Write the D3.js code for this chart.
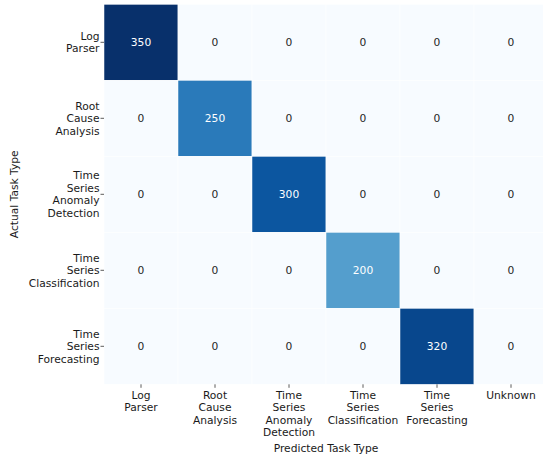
<!DOCTYPE html>
<html>
<head>
<meta charset="utf-8">
<script src="https://cdn.jsdelivr.net/npm/d3@7/dist/d3.min.js"></script>
<style>
html,body{margin:0;padding:0;background:#fff;}
svg{display:block;}
svg text{font-family:"DejaVu Sans",sans-serif;}
</style>
</head>
<body>
<svg id="chart" width="543" height="460"></svg>
<script>
const actualLabels = ["Log\nParser","Root\nCause\nAnalysis","Time\nSeries\nAnomaly\nDetection","Time\nSeries\nClassification","Time\nSeries\nForecasting"];
const predictedLabels = ["Log\nParser","Root\nCause\nAnalysis","Time\nSeries\nAnomaly\nDetection","Time\nSeries\nClassification","Time\nSeries\nForecasting","Unknown"];
const row0 = [350,0,0,0,0,0];
const row1 = [0,250,0,0,0,0];
const row2 = [0,0,300,0,0,0];
const row3 = [0,0,0,200,0,0];
const row4 = [0,0,0,0,320,0];
const matrix = [row0,row1,row2,row3,row4];
const xTitle = "Predicted Task Type";
const yTitle = "Actual Task Type";

(function(){
const FF = "'DejaVu Sans', sans-serif";
const svg = d3.select("#chart");
const mLeft = 104, mTop = 4.3, cellW = 74, cellH = 76;
const x = d3.scaleBand().domain(d3.range(predictedLabels.length)).range([mLeft, mLeft + cellW*predictedLabels.length]);
const y = d3.scaleBand().domain(d3.range(actualLabels.length)).range([mTop, mTop + cellH*actualLabels.length]);

const blues = ["#f7fbff","#deebf7","#c6dbef","#9ecae1","#6baed6","#4292c6","#2171b5","#08519c","#08306b"];
const vmax = 350;
const color = d3.scaleLinear().domain(blues.map((_,i)=>i/(blues.length-1)*vmax)).range(blues).interpolate(d3.interpolateRgb).clamp(true);

const cells = [];
matrix.forEach((r,i)=>r.forEach((v,j)=>cells.push({i,j,v})));

svg.append("g").selectAll("rect").data(cells).join("rect")
  .attr("x", d=>x(d.j)).attr("y", d=>y(d.i))
  .attr("width", x.bandwidth()).attr("height", y.bandwidth())
  .attr("fill", d=>color(d.v))
  .attr("stroke","#fff").attr("stroke-width",0.5);

const fs = 10.7, lh = 12.5;

svg.append("g").selectAll("text").data(cells).join("text")
  .attr("x", d=>x(d.j)+x.bandwidth()/2).attr("y", d=>y(d.i)+y.bandwidth()/2)
  .attr("text-anchor","middle").attr("dy","0.36em")
  .attr("font-family",FF).attr("font-size",fs+"px")
  .attr("fill", d=>d.v/vmax > 0.5 ? "#ffffff" : "#262626")
  .text(d=>d.v);

const xAxis = svg.append("g").attr("transform",`translate(0,${mTop + cellH*actualLabels.length})`)
  .call(d3.axisBottom(x).tickSize(3.5).tickSizeOuter(0).tickFormat(""));
xAxis.attr("font-family",FF).attr("font-size",fs+"px");
xAxis.select(".domain").remove();
xAxis.selectAll(".tick line").attr("stroke","#333").attr("stroke-width",0.8);
xAxis.selectAll(".tick").each(function(d){
  const lines = predictedLabels[d].split("\n");
  const t = d3.select(this).append("text").attr("text-anchor","middle").attr("font-family",FF).attr("font-size",fs+"px").attr("fill","#1a1a1a");
  lines.forEach((l,k)=>t.append("tspan").attr("x",0).attr("y",14.5 + k*lh).text(l));
});
const yAxis = svg.append("g").attr("transform",`translate(${mLeft},0)`)
  .call(d3.axisLeft(y).tickSize(3.5).tickSizeOuter(0).tickFormat(""));
yAxis.attr("font-family",FF).attr("font-size",fs+"px");
yAxis.select(".domain").remove();
yAxis.selectAll(".tick line").attr("stroke","#333").attr("stroke-width",0.8);
yAxis.selectAll(".tick").each(function(d){
  const lines = actualLabels[d].split("\n");
  const t = d3.select(this).append("text").attr("text-anchor","end").attr("font-family",FF).attr("font-size",fs+"px").attr("fill","#1a1a1a");
  const off = -(lines.length-1)*lh/2;
  lines.forEach((l,k)=>t.append("tspan").attr("x",-4.5).attr("y",off + k*lh).attr("dy","0.36em").text(l));
});

svg.append("text").attr("x", mLeft + cellW*predictedLabels.length/2).attr("y", 452)
  .attr("text-anchor","middle").attr("font-family",FF).attr("font-size",fs+"px").attr("fill","#1a1a1a").text(xTitle);
svg.append("text").attr("transform",`translate(18,${mTop + cellH*actualLabels.length/2}) rotate(-90)`)
  .attr("text-anchor","middle").attr("font-family",FF).attr("font-size",fs+"px").attr("fill","#1a1a1a").text(yTitle);
})();
</script>
</body>
</html>
